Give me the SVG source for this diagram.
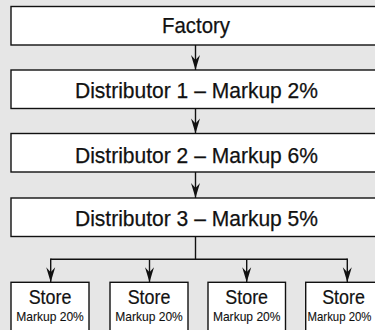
<svg xmlns="http://www.w3.org/2000/svg" width="375" height="330" viewBox="0 0 375 330">
  <style>
    .box { fill: #ffffff; stroke: #111111; stroke-width: 1.4; }
    .big { font-family: "Liberation Sans", Arial, sans-serif; font-size: 22.5px; fill: #111111; stroke: #111111; stroke-width: 0.25; text-anchor: middle; }
    .st { font-family: "Liberation Sans", Arial, sans-serif; font-size: 19.5px; fill: #111111; stroke: #111111; stroke-width: 0.2; text-anchor: middle; }
    .mk { font-family: "Liberation Sans", Arial, sans-serif; font-size: 12.8px; fill: #111111; stroke: #111111; stroke-width: 0.1; text-anchor: middle; }
    .conn { stroke: #111111; stroke-width: 1.4; fill: none; }
  </style>
  <defs>
    <marker id="arrow" markerUnits="userSpaceOnUse" viewBox="-16 -5 17 10" refX="0" refY="0" markerWidth="17" markerHeight="10" orient="auto">
      <path d="M0,0 L-15,-4.5 L-10,0 L-15,4.5 Z" fill="#111111"/>
    </marker>
  </defs>
  <rect x="0" y="0" width="375" height="330" fill="#e6e6e6"/>

  <g id="connectors">
    <line class="conn" x1="195.5" y1="45" x2="195.5" y2="70" marker-end="url(#arrow)"/>
    <line class="conn" x1="195.5" y1="108.5" x2="195.5" y2="133.5" marker-end="url(#arrow)"/>
    <line class="conn" x1="195.5" y1="172" x2="195.5" y2="198" marker-end="url(#arrow)"/>
    <line class="conn" x1="195.5" y1="236.5" x2="195.5" y2="259.3"/>
    <line class="conn" x1="50.7" y1="259.3" x2="347.3" y2="259.3"/>
    <line class="conn" x1="50.7" y1="258.6" x2="50.7" y2="282.3" marker-end="url(#arrow)"/>
    <line class="conn" x1="149.5" y1="259.3" x2="149.5" y2="282.3" marker-end="url(#arrow)"/>
    <line class="conn" x1="246.7" y1="259.3" x2="246.7" y2="282.3" marker-end="url(#arrow)"/>
    <line class="conn" x1="347.3" y1="258.6" x2="347.3" y2="282.3" marker-end="url(#arrow)"/>
  </g>

  <g id="factory">
    <rect class="box" x="11" y="6.5" width="372" height="38.5"/>
    <text class="big" x="196" y="33.3" textLength="68" lengthAdjust="spacingAndGlyphs">Factory</text>
  </g>
  <g id="distributor1">
    <rect class="box" x="11" y="70" width="372" height="38.5"/>
    <text class="big" x="196.5" y="98.3" textLength="243" lengthAdjust="spacingAndGlyphs">Distributor 1 – Markup 2%</text>
  </g>
  <g id="distributor2">
    <rect class="box" x="11" y="133.5" width="372" height="38.5"/>
    <text class="big" x="196.5" y="163" textLength="243" lengthAdjust="spacingAndGlyphs">Distributor 2 – Markup 6%</text>
  </g>
  <g id="distributor3">
    <rect class="box" x="11" y="198" width="372" height="38.5"/>
    <text class="big" x="196.5" y="225.5" textLength="243" lengthAdjust="spacingAndGlyphs">Distributor 3 – Markup 5%</text>
  </g>

  <g id="store1">
    <rect class="box" x="11" y="282.3" width="78" height="60"/>
    <text class="st" x="50" y="304.3" textLength="42.7" lengthAdjust="spacingAndGlyphs">Store</text>
    <text class="mk" x="50" y="320.7" textLength="67.6" lengthAdjust="spacingAndGlyphs">Markup 20%</text>
  </g>
  <g id="store2">
    <rect class="box" x="110" y="282.3" width="78" height="60"/>
    <text class="st" x="149" y="304.3" textLength="42.7" lengthAdjust="spacingAndGlyphs">Store</text>
    <text class="mk" x="149" y="320.7" textLength="67.6" lengthAdjust="spacingAndGlyphs">Markup 20%</text>
  </g>
  <g id="store3">
    <rect class="box" x="208" y="282.3" width="77.5" height="60"/>
    <text class="st" x="246.7" y="304.3" textLength="42.7" lengthAdjust="spacingAndGlyphs">Store</text>
    <text class="mk" x="246.7" y="320.7" textLength="67.6" lengthAdjust="spacingAndGlyphs">Markup 20%</text>
  </g>
  <g id="store4">
    <rect class="box" x="305.7" y="282.3" width="78" height="60"/>
    <text class="st" x="343.5" y="304.3" textLength="42.7" lengthAdjust="spacingAndGlyphs">Store</text>
    <text class="mk" x="339.5" y="320.7" textLength="64" lengthAdjust="spacingAndGlyphs">Markup 20%</text>
  </g>
</svg>
